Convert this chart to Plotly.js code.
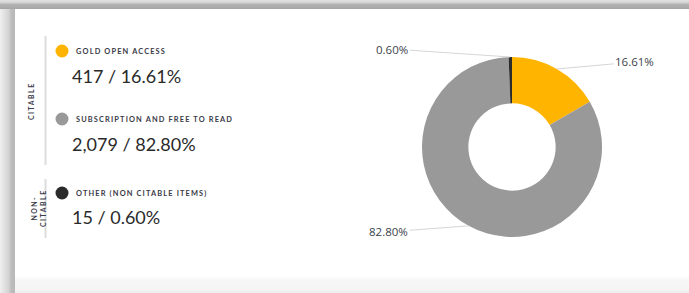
<!DOCTYPE html>
<html>
<head>
<meta charset="utf-8">
<script src="https://cdn.plot.ly/plotly-3.0.1.min.js"></script>
<style>
  html, body { margin: 0; padding: 0; width: 689px; height: 293px; overflow: hidden; background: #ffffff; }
  #frameLeft { position: absolute; left: 0; top: 0; width: 15px; height: 293px;
    background: linear-gradient(to right, #efefef 0px, #e6e6e6 3px, #dcdcdc 6px, #d2d2d2 9px, #bdbdbd 11px, #b8b8b8 15px); }
  #frameTop { position: absolute; left: 0; top: 0; width: 689px; height: 9px;
    background: linear-gradient(to bottom, #e2e2e2 0px, #d2d2d2 3px, #b4b4b4 4px, #aaaaaa 8px, #a4a4a4 9px); }
  #frameBottom { position: absolute; left: 15px; top: 276px; width: 674px; height: 17px;
    background: linear-gradient(to bottom, #ffffff 0px, #f7f7f7 4px, #f4f4f4 14px, #ececec 17px); }
  #chart { position: absolute; left: 0; top: 0; width: 689px; height: 293px; }
  text[style*="font-size: 7.4px"] { letter-spacing: 1.15px; }
  text[style*="font-size: 6.9px"] { letter-spacing: 1.5px; }
</style>
</head>
<body>
<div id="frameLeft"></div>
<div id="frameTop"></div>
<div id="frameBottom"></div>
<div id="chart"></div>
<script>
// ---- data ----
var categories = ['GOLD OPEN ACCESS', 'SUBSCRIPTION AND FREE TO READ', 'OTHER (NON CITABLE ITEMS)'];
var counts = [417, 2079, 15];
var percents = [16.61, 82.80, 0.60];
var groupLabels = ['CITABLE', 'NON-<br>CITABLE'];
var colors = ['#FFB400', '#999999', '#2b2b2b'];

// ---- layout helpers ----
var W = 689, H = 293;
function px(x) { return x / W; }
function py(y) { return 1 - y / H; }

var cx = 512, cy = 147, R = 90;

function fmtCount(n) { return n.toLocaleString('en-US'); }
function fmtPct(p) { return p.toFixed(2) + '%'; }

var pie = {
  type: 'pie',
  values: counts,
  labels: categories,
  marker: { colors: colors, line: { width: 0 } },
  hole: 0.485,
  sort: false,
  direction: 'clockwise',
  rotation: 0,
  textinfo: 'none',
  hoverinfo: 'none',
  showlegend: false,
  domain: { x: [px(cx - R), px(cx + R)], y: [py(cy + R), py(cy - R)] }
};

var annotations = [];
// pie outside labels with leader lines
var total = counts.reduce(function (a, b) { return a + b; }, 0);
var labelOffsets = [[78, -7], [-80, 6], [-118, -8]];
var cum = 0;
for (var i = 0; i < counts.length; i++) {
  var frac = counts[i] / total;
  var mid = (cum + frac / 2) * 2 * Math.PI;
  cum += frac;
  var ax = cx + R * Math.sin(mid), ay = cy - R * Math.cos(mid);
  annotations.push({
    xref: 'paper', yref: 'paper', x: px(ax), y: py(ay),
    text: fmtPct(percents[i]), showarrow: true, arrowhead: 0, arrowwidth: 1,
    arrowcolor: '#d6d6d6', standoff: 0, startstandoff: 0,
    ax: labelOffsets[i][0], ay: labelOffsets[i][1],
    font: { family: 'Open Sans, sans-serif', size: 11.5, color: '#3b3f4a' }
  });
}
// value texts
var rowLabelY = [51, 119, 193];
var rowValueY = [76, 144, 217];
for (var j = 0; j < categories.length; j++) {
  annotations.push({
    xref: 'paper', yref: 'paper', x: px(70), y: py(rowValueY[j]),
    xanchor: 'left', yanchor: 'middle', showarrow: false,
    text: fmtCount(counts[j]) + ' / ' + fmtPct(percents[j]),
    font: { family: 'Lato, sans-serif', size: 18, color: '#2a2a2a' }
  });
}
// category labels
for (var k = 0; k < categories.length; k++) {
  annotations.push({
    xref: 'paper', yref: 'paper', x: px(74), y: py(rowLabelY[k]),
    xanchor: 'left', yanchor: 'middle', showarrow: false,
    text: categories[k],
    font: { family: 'Lato, sans-serif', size: 7.4, color: '#3a3a48', weight: 'bold' }
  });
}
// group labels
annotations.push({
  xref: 'paper', yref: 'paper', x: px(31), y: py(101), showarrow: false,
  xanchor: 'center', yanchor: 'middle', textangle: -90, text: groupLabels[0],
  font: { family: 'Lato, sans-serif', size: 6.9, color: '#3a3a48', weight: 'bold' }
});
annotations.push({
  xref: 'paper', yref: 'paper', x: px(38.5), y: py(208.5), showarrow: false,
  xanchor: 'center', yanchor: 'middle', textangle: -90, text: groupLabels[1],
  font: { family: 'Lato, sans-serif', size: 6.9, color: '#3a3a48', weight: 'bold', lineposition: 'none' }
});

var shapes = [
  { type: 'line', xref: 'paper', yref: 'paper', x0: px(45.5), x1: px(45.5), y0: py(36), y1: py(165),
    line: { color: '#dcdcdc', width: 2 } },
  { type: 'line', xref: 'paper', yref: 'paper', x0: px(45.5), x1: px(45.5), y0: py(179), y1: py(238),
    line: { color: '#dcdcdc', width: 2 } }
];
var dotR = 6.5;
for (var m = 0; m < categories.length; m++) {
  shapes.push({
    type: 'circle', xref: 'paper', yref: 'paper',
    x0: px(62 - dotR), x1: px(62 + dotR), y0: py(rowLabelY[m] + dotR), y1: py(rowLabelY[m] - dotR),
    fillcolor: colors[m], line: { width: 0 }
  });
}

var layout = {
  width: W, height: H,
  margin: { l: 0, r: 0, t: 0, b: 0 },
  paper_bgcolor: 'rgba(0,0,0,0)',
  plot_bgcolor: 'rgba(0,0,0,0)',
  showlegend: false,
  annotations: annotations,
  shapes: shapes
};

Plotly.newPlot('chart', [pie], layout, { staticPlot: true, displayModeBar: false });
</script>
</body>
</html>
